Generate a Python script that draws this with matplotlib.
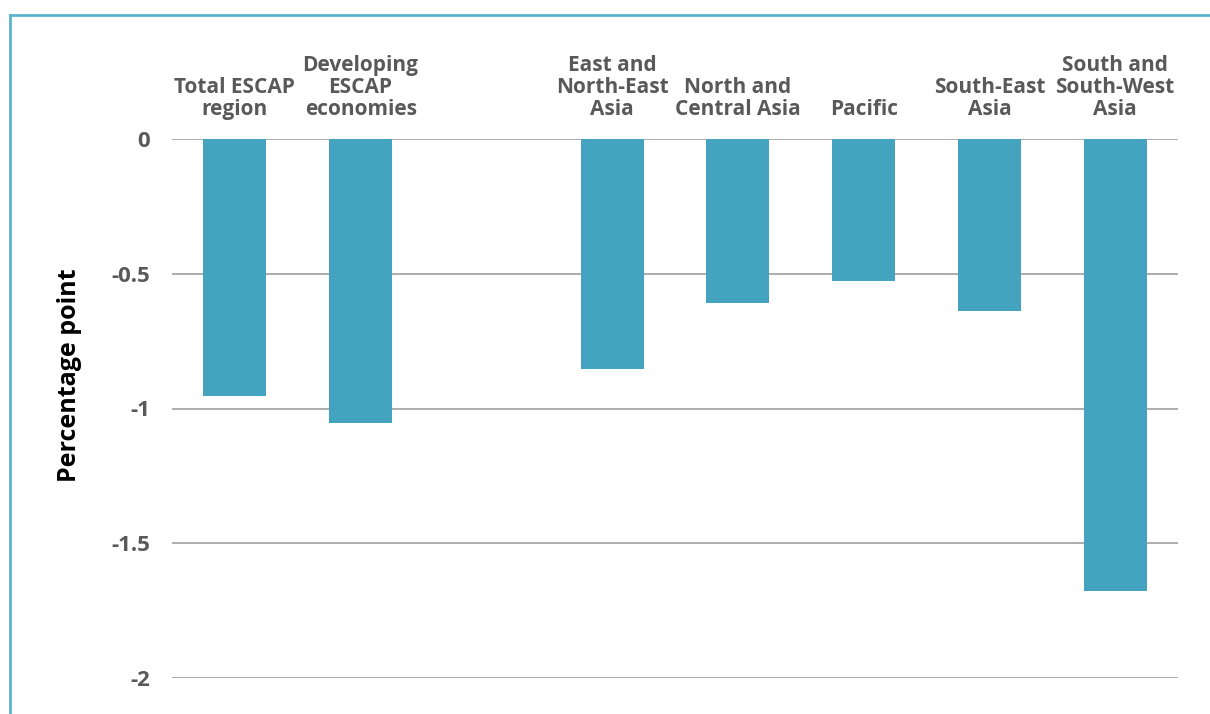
import numpy as np
import matplotlib.pyplot as plt
from matplotlib.lines import Line2D

categories = ['Total ESCAP\nregion', 'Developing\nESCAP\neconomies', '',
              'East and\nNorth-East\nAsia', 'North and\nCentral Asia', 'Pacific',
              'South-East\nAsia', 'South and\nSouth-West\nAsia']
values = [-0.955, -1.052, np.nan, -0.855, -0.61, -0.528, -0.639, -1.677]
yticks = [0, -0.5, -1, -1.5, -2]
ytick_labels = ['0', '-0.5', '-1', '-1.5', '-2']

plt.rcParams['font.family'] = ['Open Sans', 'DejaVu Sans']

fig = plt.figure(figsize=(12.1, 7.14), dpi=100)
ax = fig.add_axes([172 / 1210, 36 / 714, 1006 / 1210, 539 / 714])

x = np.arange(len(categories))
ax.bar(x, np.nan_to_num(values), width=0.5, color='#44A3BE', zorder=3)

for t in yticks:
    ax.axhline(t, color='#a6a6a6', lw=1.3, zorder=1)

ax.set_xlim(-0.5, len(categories) - 0.5)
ax.set_ylim(-2, 0)
ax.set_yticks(yticks)
ax.set_yticklabels(ytick_labels, fontsize=16, fontweight='bold', color='#595959')
ax.xaxis.tick_top()
ax.set_xticks(x)
ax.set_xticklabels(categories, fontsize=15, fontweight='bold', color='#595959',
                   linespacing=1.05)
ax.tick_params(axis='both', length=0)
ax.tick_params(axis='y', pad=16)
ax.tick_params(axis='x', pad=14)
for s in ax.spines.values():
    s.set_visible(False)
ax.set_ylabel('Percentage point', fontsize=18, fontweight='bold', color='black')
ax.yaxis.set_label_coords(-0.0895, 0.562)

# frame lines in the top-left corner
fig.add_artist(Line2D([10 / 1210, 1], [1 - 15 / 714, 1 - 15 / 714], color='#5BB5CC', lw=2))
fig.add_artist(Line2D([10 / 1210, 10 / 1210], [0, 1 - 15 / 714], color='#5BB5CC', lw=2))

plt.savefig('out.png', dpi=100)
